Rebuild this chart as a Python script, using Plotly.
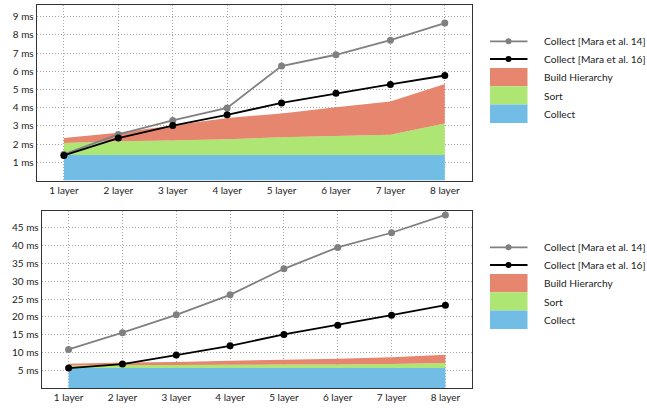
import plotly.graph_objects as go

W, H = 647, 408

layers = [1, 2, 3, 4, 5, 6, 7, 8]
layer_labels = [f"{i} layer" for i in layers]

# top chart (ms)
top_collect = [1.40, 1.40, 1.40, 1.40, 1.40, 1.40, 1.40, 1.40]
top_sort = [0.66, 0.75, 0.80, 0.87, 0.98, 1.04, 1.11, 1.73]
top_build = [0.27, 0.47, 0.82, 1.17, 1.30, 1.59, 1.83, 2.17]
top_mara14 = [1.44, 2.53, 3.30, 3.99, 6.29, 6.91, 7.71, 8.65]
top_mara16 = [1.38, 2.33, 3.02, 3.61, 4.26, 4.79, 5.28, 5.77]
top_yticks = [1, 2, 3, 4, 5, 6, 7, 8, 9]

# bottom chart (ms)
bot_collect = [5.7, 5.7, 5.7, 5.7, 5.7, 5.7, 5.7, 5.7]
bot_sort = [0.7, 0.8, 0.85, 0.9, 0.95, 1.0, 1.1, 1.4]
bot_build = [0.5, 0.7, 0.85, 1.1, 1.35, 1.6, 1.9, 2.3]
bot_mara14 = [10.9, 15.6, 20.6, 26.2, 33.5, 39.5, 43.6, 48.6]
bot_mara16 = [5.67, 6.79, 9.3, 11.9, 15.1, 17.7, 20.5, 23.3]
bot_yticks = [5, 10, 15, 20, 25, 30, 35, 40, 45]

legend_names = ["Collect [Mara et al. 14]", "Collect [Mara et al. 16]",
                "Build Hierarchy", "Sort", "Collect"]

C_BLUE = "#72BDE6"
C_GREEN = "#AEE673"
C_RED = "#E6866F"
C_GRAY = "#808080"
C_BLACK = "#000000"
FONT = "Lato"

fig = go.Figure()


def add_panel(xa, ya, collect, sort, build, m14, m16, sg):
    for vals, col in [(collect, C_BLUE), (sort, C_GREEN), (build, C_RED)]:
        fig.add_trace(go.Scatter(x=layers, y=vals, xaxis=xa, yaxis=ya,
                                 stackgroup=sg, mode="none", fillcolor=col,
                                 line=dict(width=0), showlegend=False,
                                 hoverinfo="skip"))
    for vals, col in [(m14, C_GRAY), (m16, C_BLACK)]:
        fig.add_trace(go.Scatter(x=layers, y=vals, xaxis=xa, yaxis=ya,
                                 mode="lines+markers",
                                 line=dict(color=col, width=1.8),
                                 marker=dict(color=col, size=7),
                                 showlegend=False))


add_panel("x", "y", top_collect, top_sort, top_build, top_mara14, top_mara16, "a")
add_panel("x2", "y2", bot_collect, bot_sort, bot_build, bot_mara14, bot_mara16, "b")

axis_common = dict(showline=True, mirror=True, linecolor="#333", linewidth=1,
                   showgrid=True, gridcolor="#a8a8a8", griddash="1px,2px", gridwidth=1,
                   zeroline=False, ticks="", automargin=False,
                   tickfont=dict(family=FONT, size=10, color="#222"))

fig.update_layout(
    width=W, height=H, margin=dict(l=0, r=0, t=0, b=0, autoexpand=False),
    plot_bgcolor="white", paper_bgcolor="white", showlegend=False,
    xaxis=dict(domain=[36.7 / W, 472 / W], range=[0.5, 8.5], anchor="y",
               tickvals=layers, ticktext=layer_labels, **axis_common),
    yaxis=dict(domain=[1 - 180.5 / H, 1 - 4.7 / H], range=[0, 9.66], anchor="x",
               tickvals=top_yticks, ticktext=[f"{v} ms" for v in top_yticks],
               **axis_common),
    xaxis2=dict(domain=[41.7 / W, 472.3 / W], range=[0.5, 8.5], anchor="y2",
                tickvals=layers, ticktext=layer_labels, **axis_common),
    yaxis2=dict(domain=[1 - 388.3 / H, 1 - 211 / H], range=[0, 49.7], anchor="x2",
                tickvals=bot_yticks, ticktext=[f"{v} ms" for v in bot_yticks],
                **axis_common),
)

# custom legends (paper coordinates in pixels)
def px(x):
    return x / W


def py(y):
    return 1 - y / H


def add_legend(y0):
    lines = [(y0, C_GRAY), (y0 + 17.7, C_BLACK)]
    for i, (yy, col) in enumerate(lines):
        fig.add_shape(type="line", xref="paper", yref="paper",
                      x0=px(490), x1=px(527.5), y0=py(yy), y1=py(yy),
                      line=dict(color=col, width=1.8))
        fig.add_shape(type="circle", xref="paper", yref="paper",
                      x0=px(505.5), x1=px(511.5), y0=py(yy - 3), y1=py(yy + 3),
                      fillcolor=col, line=dict(width=0))
        fig.add_annotation(x=px(542), y=py(yy), xref="paper", yref="paper",
                           text=legend_names[i], showarrow=False, xanchor="left",
                           yanchor="middle", font=dict(family=FONT, size=10.2, color="#222"))
    boxes = [C_RED, C_GREEN, C_BLUE]
    top = y0 + 26.7
    for j, col in enumerate(boxes):
        b0 = top + j * 18.3
        fig.add_shape(type="rect", xref="paper", yref="paper",
                      x0=px(490), x1=px(527.5), y0=py(b0 + 18.3), y1=py(b0),
                      fillcolor=col, line=dict(width=0))
        fig.add_annotation(x=px(542), y=py(b0 + 9.2), xref="paper", yref="paper",
                           text=legend_names[2 + j], showarrow=False, xanchor="left",
                           yanchor="middle", font=dict(family=FONT, size=10.2, color="#222"))


add_legend(41.3)
add_legend(247.3)

fig.write_html("out.html", config={"displayModeBar": False},
               post_script="document.body.style.margin='0';document.body.style.overflow='hidden';")
